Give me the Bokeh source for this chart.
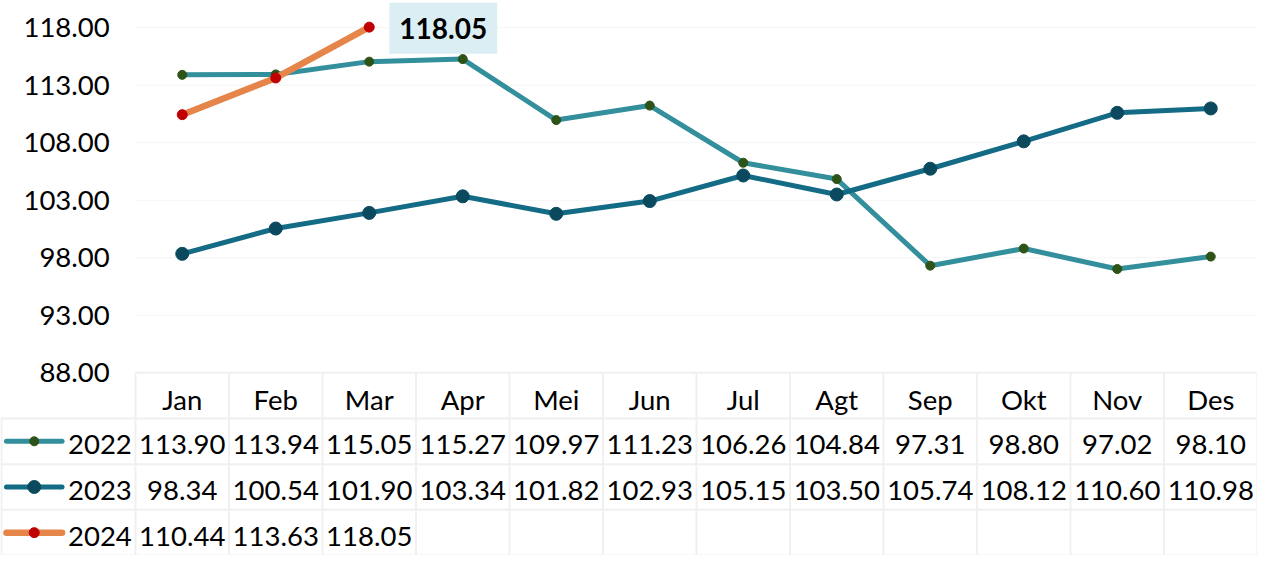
from bokeh.plotting import figure
from bokeh.models import Range1d, Label
from bokeh.core.properties import value
from bokeh.embed import file_html
from bokeh.resources import INLINE

# ---- data ----
months = ["Jan", "Feb", "Mar", "Apr", "Mei", "Jun", "Jul", "Agt", "Sep", "Okt", "Nov", "Des"]
v2022 = [113.90, 113.94, 115.05, 115.27, 109.97, 111.23, 106.26, 104.84, 97.31, 98.80, 97.02, 98.10]
v2023 = [98.34, 100.54, 101.90, 103.34, 101.82, 102.93, 105.15, 103.50, 105.74, 108.12, 110.60, 110.98]
v2024 = [110.44, 113.63, 118.05]
years = ["2022", "2023", "2024"]
yticks = [88, 93, 98, 103, 108, 113, 118]

# ---- styles ----
FONT = value("Lato")
FS = "27.5px"
line_colors = ["#338f9b", "#146b85", "#e5854a"]
marker_colors = ["#2e5318", "#0b4a5e", "#c00000"]
line_widths = [5, 5, 6.5]
marker_sizes = [9, 13, 10]
series = [v2022, v2023, v2024]

n = len(months)
ymin, ymax = yticks[0], yticks[-1]
px_per_unit = 355.0 / (ymax - ymin)          # vertical scale of the chart area
row_h = 47.0 / px_per_unit                    # table row height in data units
col_px = 94.2
x_left = -0.5 - 136.0 / col_px                # table legend column left edge
y_bottom = ymin - 4 * row_h
y_top = ymax + 28.0 / px_per_unit
txt_dy = 0.3                                  # baseline nudge for table text

p = figure(width=1257, height=555, output_backend="svg", toolbar_location=None,
           x_range=Range1d(x_left, n - 0.5), y_range=Range1d(y_bottom, y_top),
           x_axis_type=None, y_axis_type=None, min_border=0)
p.outline_line_color = None
p.background_fill_color = "white"

# gridlines
p.segment(x0=[-0.5] * len(yticks), x1=[n - 0.5] * len(yticks), y0=yticks, y1=yticks,
          line_color="#f5f5f5", line_width=1)

# y tick labels
p.text(x=[-0.5 - 26.0 / col_px] * len(yticks), y=yticks, text=[f"{t:.2f}" for t in yticks],
       text_font=FONT, text_font_size=FS, text_align="right", text_baseline="middle",
       text_color="#000000")

# table grid
tc = "#f0f0f0"
tw = 2
row_edges = [ymin - k * row_h for k in range(5)]
p.segment(x0=[-0.5], x1=[n - 0.5], y0=[row_edges[0]], y1=[row_edges[0]], line_color=tc, line_width=tw)
p.segment(x0=[x_left] * 4, x1=[n - 0.5] * 4, y0=row_edges[1:], y1=row_edges[1:], line_color=tc, line_width=tw)
col_edges = [-0.5 + k for k in range(n + 1)]
p.segment(x0=col_edges, x1=col_edges, y0=[row_edges[0]] * len(col_edges), y1=[row_edges[-1]] * len(col_edges),
          line_color=tc, line_width=tw)
p.segment(x0=[x_left + 0.01], x1=[x_left + 0.01], y0=[row_edges[1]], y1=[row_edges[-1]], line_color=tc, line_width=tw)

# header labels
p.text(x=list(range(n)), y=[ymin - 0.5 * row_h - txt_dy] * n, text=months, text_font=FONT,
       text_font_size=FS, text_align="center", text_baseline="middle", text_color="#000000")

# series lines
for i, vals in enumerate(series):
    xs = list(range(len(vals)))
    p.line(xs, vals, line_color=line_colors[i], line_width=line_widths[i], line_join="round", line_cap="round")
    p.scatter(xs, vals, size=marker_sizes[i], fill_color=marker_colors[i], line_color=marker_colors[i])

# table rows
for r, vals in enumerate(series):
    yc = ymin - (r + 1.5) * row_h - txt_dy
    p.text(x=list(range(len(vals))), y=[yc] * len(vals), text=[f"{v:.2f}" for v in vals],
           text_font=FONT, text_font_size=FS, text_align="center", text_baseline="middle",
           text_color="#000000")
    yl = ymin - (r + 1.5) * row_h
    lx0 = x_left + 6.0 / col_px
    lx1 = x_left + 62.0 / col_px
    p.line([lx0, lx1], [yl, yl], line_color=line_colors[r], line_width=line_widths[r], line_cap="round")
    p.scatter([(lx0 + lx1) / 2], [yl], size=marker_sizes[r], fill_color=marker_colors[r], line_color=marker_colors[r])
    p.text(x=[x_left + 68.0 / col_px], y=[yc], text=[years[r]], text_font=FONT, text_font_size=FS,
           text_align="left", text_baseline="middle", text_color="#000000")

# data label for last 2024 point
last_i = len(v2024) - 1
lbl = Label(x=last_i, y=v2024[last_i], x_offset=74, y_offset=-1, text=f"{v2024[last_i]:.2f}",
            text_font="Lato", text_font_style="bold", text_font_size="28px",
            text_align="center", text_baseline="middle", text_color="#000000",
            background_fill_color="#daeef3", padding=(10, 15))
p.add_layout(lbl)

open("out.html", "w").write(file_html(p, INLINE))
